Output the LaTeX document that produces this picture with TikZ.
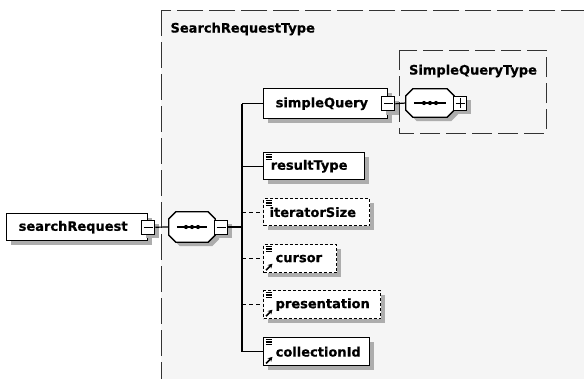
\documentclass[tikz,border=0pt]{standalone}
\usepackage{fontspec}
\setmainfont{DejaVu Sans}[BoldFeatures={FakeBold=0.6}]
\usetikzlibrary{shadows,arrows.meta}
\tikzset{
  lbl/.style={font=\bfseries\fontsize{13}{15}\selectfont},
  shad/.style={drop shadow={shadow xshift=4pt,shadow yshift=-4pt,fill=black!32,opacity=1}},
  elem/.style={lbl,draw,line width=1.4pt,fill=white,shad,anchor=north west,inner xsep=0pt,inner ysep=0pt,align=left},
  optelem/.style={elem,line width=1.2pt,dash pattern=on 3pt off 2pt},
  tog/.style={draw,line width=1pt,fill=white,minimum width=13pt,minimum height=14pt,inner sep=0pt,shad},
  seqnode/.style={minimum width=46pt,minimum height=30pt,inner sep=0pt},
  octo/.style={draw,line width=1.3pt,fill=white},
  conn/.style={line width=1.2pt},
  optconn/.style={conn,dash pattern=on 4pt off 3pt},
  grpbox/.style={draw=black!80,line width=0.8pt},
}
\newcommand\octpath[1]{([xshift=7pt]#1.north west) -- ([xshift=-7pt]#1.north east) -- ([yshift=-7pt]#1.north east) -- ([yshift=7pt]#1.south east) -- ([xshift=-7pt]#1.south east) -- ([xshift=7pt]#1.south west) -- ([yshift=7pt]#1.south west) -- ([yshift=-7pt]#1.north west) -- cycle}
\begin{document}
\begin{tikzpicture}[x=1pt,y=-1pt]
\useasboundingbox (0,0) rectangle (584,378);
\clip (0,0) rectangle (584,378);
\fill[white] (0,0) rectangle (584,378);
% outer group box
\draw[grpbox,dash pattern=on 26pt off 6pt,fill=black!4] (161,10) rectangle (620,420);
\node[lbl,anchor=west] (srt) at (167,29) {SearchRequestType};
% inner group box
\draw[grpbox,dash pattern=on 20pt off 6pt] (399,50) rectangle (546,133);
\node[lbl] (sqt) at (473,71) {SimpleQueryType};

% root element
\node[elem,text width=141pt,minimum height=27pt] (sr) at (6,213) {\hspace*{12pt}searchRequest};
\node[tog] (srm) at (sr.east) {};
\draw[line width=1pt] ([xshift=2.5pt]srm.west) -- ([xshift=-2.5pt]srm.east);

% sequence compositor
\node[seqnode] (seq) at (192,227) {};
\fill[black!32,transform canvas={shift={(4pt,-4pt)}}] \octpath{seq};
\path[octo] \octpath{seq};
\draw[line width=1.1pt] ([xshift=8pt]seq.west) -- ([xshift=-8pt]seq.east);
\foreach \dx in {-6,0,6} \fill ([xshift=\dx pt]seq.center) circle (2.1);
\node[tog,anchor=west] (seqm) at ([xshift=-1pt]seq.east) {};
\draw[line width=1pt] ([xshift=2.5pt]seqm.west) -- ([xshift=-2.5pt]seqm.east);

% children
\coordinate (spine) at (242,0);
\node[elem,text width=124pt,minimum height=30pt] (sq) at (263,88) {\hspace*{12pt}simpleQuery};
\node[tog] (sqm) at (sq.east) {};
\draw[line width=1pt] ([xshift=2.5pt]sqm.west) -- ([xshift=-2.5pt]sqm.east);
\node[elem,text width=101pt,minimum height=27pt] (rt) at (263,152) {\hspace*{7pt}resultType};
\node[optelem,text width=106pt,minimum height=27pt] (is) at (263,198) {\hspace*{6pt}iteratorSize};
\node[optelem,text width=73pt,minimum height=28pt] (cu) at (263,244) {\hspace*{12pt}cursor};
\node[optelem,text width=117pt,minimum height=28pt] (pr) at (263,290) {\hspace*{12pt}presentation};
\node[elem,text width=106pt,minimum height=28pt] (ci) at (263,337) {\hspace*{12pt}collectionId};

% icons
\foreach \n in {rt,is,cu,pr,ci}{
  \foreach \dy in {2.8,5.0,7.2}
    \draw[line width=1.2pt] ([xshift=2.5pt,yshift=-\dy pt]\n.north west) -- ++(6.5,0);
}
\foreach \n in {cu,pr,ci}
  \draw[line width=1.6pt,-{Stealth[length=4.5pt,width=5pt]}] ([xshift=3pt,yshift=3pt]\n.south west) -- ++(6.5,-6.5);

% SimpleQueryType content
\node[seqnode,minimum width=48pt,minimum height=28pt] (seq2) at (430,103) {};
\fill[black!32,transform canvas={shift={(4pt,-4pt)}}] \octpath{seq2};
\path[octo] \octpath{seq2};
\draw[line width=1.1pt] ([xshift=8pt]seq2.west) -- ([xshift=-8pt]seq2.east);
\foreach \dx in {-6,0,6} \fill ([xshift=\dx pt]seq2.center) circle (2.1);
\node[tog,anchor=west] (seq2p) at ([xshift=-1pt]seq2.east) {};
\draw[line width=1pt] ([xshift=2.5pt]seq2p.west) -- ([xshift=-2.5pt]seq2p.east);
\draw[line width=1pt] ([yshift=2.5pt]seq2p.south) -- ([yshift=-2.5pt]seq2p.north);

% connectors
\draw[conn] (srm.east) -- (seq.west);
\draw[conn] (seqm.east) -- (seqm.east -| spine);
\draw[conn] (sq.west -| spine) -- (ci.west -| spine);
\draw[conn] (sq.west -| spine) -- (sq.west);
\draw[conn] (rt.west -| spine) -- (rt.west);
\draw[optconn] (is.west -| spine) -- (is.west);
\draw[optconn] (cu.west -| spine) -- (cu.west);
\draw[optconn] (pr.west -| spine) -- (pr.west);
\draw[conn] (ci.west -| spine) -- (ci.west);
\draw[conn] (sqm.east) -- (seq2.west);
\end{tikzpicture}
\end{document}
